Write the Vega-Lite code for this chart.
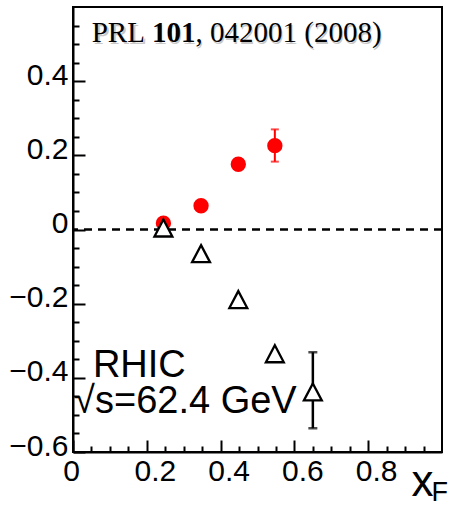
{
  "$schema": "https://vega.github.io/schema/vega-lite/v6.json",
  "width": 369,
  "height": 445,
  "autosize": {"type": "none"},
  "padding": {"left": 73, "top": 7, "right": 10, "bottom": 53},
  "background": "white",
  "config": {
    "view": {"stroke": "black", "strokeWidth": 2},
    "font": "Liberation Sans",
    "axis": {"grid": false, "domainColor": "black", "tickColor": "black", "labelColor": "black", "titleColor": "black"}
  },
  "datasets": {
    "circles": [
      {"xf": 0.245, "an": 0.017},
      {"xf": 0.347, "an": 0.064},
      {"xf": 0.448, "an": 0.176},
      {"xf": 0.547, "an": 0.226}
    ],
    "circleErr": [
      {"xf": 0.547, "lo": 0.183, "hi": 0.270}
    ],
    "triangles": [
      {"xf": 0.245, "an": 0.004},
      {"xf": 0.347, "an": -0.065},
      {"xf": 0.448, "an": -0.189},
      {"xf": 0.547, "an": -0.335},
      {"xf": 0.650, "an": -0.438}
    ],
    "triangleErr": [
      {"xf": 0.650, "lo": -0.536, "hi": -0.331}
    ]
  },
  "layer": [
    {
      "data": {"values": [{"z": 0}]},
      "mark": {"type": "rule", "strokeDash": [8, 6], "strokeWidth": 2.5, "color": "black"},
      "encoding": {
        "y": {"field": "z", "type": "quantitative", "scale": {"domain": [-0.6, 0.6], "nice": false, "zero": false}, "axis": null}
      }
    },
    {
      "data": {"name": "circles"},
      "mark": {"type": "circle", "color": "#ff0000", "opacity": 1, "size": 235},
      "encoding": {
        "x": {
          "field": "xf", "type": "quantitative",
          "scale": {"domain": [0, 1], "nice": false, "zero": false},
          "axis": {
            "orient": "bottom",
            "values": [0, 0.2, 0.4, 0.6, 0.8],
            "format": "~g",
            "labelFontSize": 30,
            "labelPadding": 16,
            "labelFlush": false,
            "labelOverlap": false,
            "labelOffset": {"condition": {"test": "datum.value == 0", "value": -2}, "value": 8},
            "tickSize": -12,
            "tickWidth": 2,
            "domainWidth": 2,
            "title": "x",
            "titleFont": "Liberation Sans",
            "titleFontSize": 44,
            "titleFontWeight": "normal",
            "titleAlign": "left",
            "titleBaseline": "alphabetic",
            "titleAnchor": "start",
            "titleX": 338,
            "titleY": 43
          }
        },
        "y": {
          "field": "an", "type": "quantitative",
          "scale": {"domain": [-0.6, 0.6], "nice": false, "zero": false},
          "axis": {
            "orient": "left",
            "values": [-0.6, -0.4, -0.2, 0, 0.2, 0.4],
            "format": "~g",
            "labelFontSize": 30,
            "labelPadding": 17,
            "labelOffset": -6,
            "labelFlush": false,
            "labelOverlap": false,
            "tickSize": -12,
            "tickWidth": 2,
            "domainWidth": 2,
            "title": null
          }
        }
      }
    },
    {
      "data": {"name": "circleErr"},
      "mark": {"type": "errorbar", "color": "#ff0000", "thickness": 2, "ticks": {"size": 8, "thickness": 2, "color": "#ff0000"}},
      "encoding": {
        "x": {"field": "xf", "type": "quantitative", "axis": null},
        "y": {"field": "lo", "type": "quantitative", "axis": null},
        "y2": {"field": "hi"}
      }
    },
    {
      "data": {"name": "triangleErr"},
      "mark": {"type": "errorbar", "color": "black", "thickness": 2.5, "ticks": {"size": 9, "thickness": 2.5, "color": "black"}},
      "encoding": {
        "x": {"field": "xf", "type": "quantitative", "axis": null},
        "y": {"field": "lo", "type": "quantitative", "axis": null},
        "y2": {"field": "hi"}
      }
    },
    {
      "data": {"name": "triangles"},
      "mark": {"type": "point", "shape": "M0,-0.95L1,0.95L-1,0.95Z", "filled": false, "fill": "white", "fillOpacity": 1, "stroke": "black", "strokeWidth": 2.3, "opacity": 1, "size": 320},
      "encoding": {
        "x": {
          "field": "xf", "type": "quantitative",
          "axis": {
            "orient": "bottom",
            "values": [0.05, 0.1, 0.15, 0.25, 0.3, 0.35, 0.45, 0.5, 0.55, 0.65, 0.7, 0.75, 0.85, 0.9, 0.95],
            "labels": false,
            "domain": false,
            "tickSize": -6,
            "tickWidth": 2,
            "title": "F",
            "titleFont": "Liberation Sans",
            "titleFontSize": 27,
            "titleFontWeight": "normal",
            "titleAlign": "left",
            "titleBaseline": "alphabetic",
            "titleAnchor": "start",
            "titleX": 358,
            "titleY": 48
          }
        },
        "y": {
          "field": "an", "type": "quantitative",
          "axis": {
            "orient": "left",
            "values": [-0.55, -0.5, -0.45, -0.35, -0.3, -0.25, -0.15, -0.1, -0.05, 0.05, 0.1, 0.15, 0.25, 0.3, 0.35, 0.45, 0.5, 0.55],
            "labels": false,
            "domain": false,
            "tickSize": -6,
            "tickWidth": 2,
            "title": null
          }
        }
      }
    },
    {
      "data": {"values": [{}]},
      "mark": {"type": "text", "text": "PRL 101, 042001 (2008)", "font": "Liberation Serif", "fontSize": 29, "align": "left", "baseline": "alphabetic", "color": "#c8c8c8", "dx": 2, "dy": 2},
      "encoding": {"x": {"datum": 0.0507, "type": "quantitative", "axis": null}, "y": {"datum": 0.5057, "type": "quantitative", "axis": null}}
    },
    {
      "data": {"values": [{}]},
      "mark": {"type": "text", "text": "PRL", "font": "Liberation Serif", "fontSize": 29, "align": "left", "baseline": "alphabetic", "color": "black"},
      "encoding": {"x": {"datum": 0.0507, "type": "quantitative", "axis": null}, "y": {"datum": 0.5057, "type": "quantitative", "axis": null}}
    },
    {
      "data": {"values": [{}]},
      "mark": {"type": "text", "text": "101", "font": "Liberation Serif", "fontWeight": "bold", "fontSize": 29, "align": "left", "baseline": "alphabetic", "color": "black"},
      "encoding": {"x": {"datum": 0.2144, "type": "quantitative", "axis": null}, "y": {"datum": 0.5057, "type": "quantitative", "axis": null}}
    },
    {
      "data": {"values": [{}]},
      "mark": {"type": "text", "text": ", 042001 (2008)", "font": "Liberation Serif", "fontSize": 29, "align": "left", "baseline": "alphabetic", "color": "black"},
      "encoding": {"x": {"datum": 0.3322, "type": "quantitative", "axis": null}, "y": {"datum": 0.5057, "type": "quantitative", "axis": null}}
    },
    {
      "data": {"values": [{}]},
      "mark": {"type": "text", "text": "RHIC", "font": "Liberation Sans", "fontSize": 38, "align": "left", "baseline": "alphabetic", "color": "black"},
      "encoding": {"x": {"datum": 0.054, "type": "quantitative", "axis": null}, "y": {"datum": -0.397, "type": "quantitative", "axis": null}}
    },
    {
      "data": {"values": [{}]},
      "mark": {"type": "text", "text": "√s=62.4 GeV", "font": "Liberation Sans", "fontSize": 38, "align": "left", "baseline": "alphabetic", "color": "black"},
      "encoding": {"x": {"datum": 0.003, "type": "quantitative", "axis": null}, "y": {"datum": -0.495, "type": "quantitative", "axis": null}}
    }
  ],
  "resolve": {"axis": {"x": "independent", "y": "independent"}}
}
